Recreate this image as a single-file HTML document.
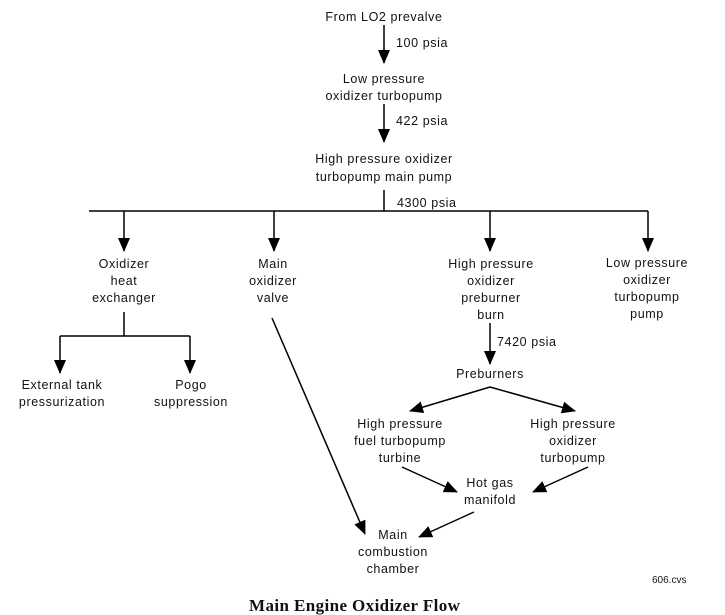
<!DOCTYPE html>
<html><head><meta charset="utf-8"><style>
body{margin:0;background:#fff;}
svg{display:block;}
text{font-family:"Liberation Sans",sans-serif;font-size:12.5px;fill:#111;letter-spacing:0.6px;}
</style></head><body>
<svg width="725" height="615" viewBox="0 0 725 615" xmlns="http://www.w3.org/2000/svg">
<defs>
<marker id="a" markerWidth="14" markerHeight="12" refX="13" refY="6" orient="auto" markerUnits="userSpaceOnUse">
<path d="M0,0 L14,6 L0,12 z" fill="#000"/>
</marker>
</defs>
<g stroke="#000" stroke-width="1.5" fill="none">
<line x1="384" y1="25" x2="384" y2="63" marker-end="url(#a)"/>
<line x1="384" y1="104" x2="384" y2="142" marker-end="url(#a)"/>
<line x1="384" y1="190" x2="384" y2="211"/>
<line x1="89" y1="211" x2="648" y2="211"/>
<line x1="124" y1="211" x2="124" y2="251" marker-end="url(#a)"/>
<line x1="274" y1="211" x2="274" y2="251" marker-end="url(#a)"/>
<line x1="490" y1="211" x2="490" y2="251" marker-end="url(#a)"/>
<line x1="648" y1="211" x2="648" y2="251" marker-end="url(#a)"/>
<line x1="124" y1="312" x2="124" y2="336"/>
<line x1="60" y1="336" x2="190" y2="336"/>
<line x1="60" y1="336" x2="60" y2="373" marker-end="url(#a)"/>
<line x1="190" y1="336" x2="190" y2="373" marker-end="url(#a)"/>
<line x1="272" y1="318" x2="365" y2="534" marker-end="url(#a)"/>
<line x1="490" y1="323" x2="490" y2="364" marker-end="url(#a)"/>
<line x1="490" y1="387" x2="410" y2="411" marker-end="url(#a)"/>
<line x1="490" y1="387" x2="575" y2="411" marker-end="url(#a)"/>
<line x1="402" y1="467" x2="457" y2="492" marker-end="url(#a)"/>
<line x1="588" y1="467" x2="533" y2="492" marker-end="url(#a)"/>
<line x1="474" y1="512" x2="419" y2="537" marker-end="url(#a)"/>
</g>
<g text-anchor="middle">
<text x="384" y="21">From LO2 prevalve</text>
<text x="384" y="83">Low pressure</text>
<text x="384" y="100">oxidizer turbopump</text>
<text x="384" y="163">High pressure oxidizer</text>
<text x="384" y="181">turbopump main pump</text>
<text x="124" y="268">Oxidizer</text>
<text x="124" y="285">heat</text>
<text x="124" y="302">exchanger</text>
<text x="273" y="268">Main</text>
<text x="273" y="285">oxidizer</text>
<text x="273" y="302">valve</text>
<text x="491" y="268">High pressure</text>
<text x="491" y="285">oxidizer</text>
<text x="491" y="302">preburner</text>
<text x="491" y="319">burn</text>
<text x="647" y="267">Low pressure</text>
<text x="647" y="284">oxidizer</text>
<text x="647" y="301">turbopump</text>
<text x="647" y="318">pump</text>
<text x="62" y="389">External tank</text>
<text x="62" y="406">pressurization</text>
<text x="191" y="389">Pogo</text>
<text x="191" y="406">suppression</text>
<text x="490" y="378">Preburners</text>
<text x="400" y="428">High pressure</text>
<text x="400" y="445">fuel turbopump</text>
<text x="400" y="462">turbine</text>
<text x="573" y="428">High pressure</text>
<text x="573" y="445">oxidizer</text>
<text x="573" y="462">turbopump</text>
<text x="490" y="487">Hot gas</text>
<text x="490" y="504">manifold</text>
<text x="393" y="539">Main</text>
<text x="393" y="556">combustion</text>
<text x="393" y="573">chamber</text>
</g>
<text x="396" y="47">100 psia</text>
<text x="396" y="125">422 psia</text>
<text x="397" y="207">4300 psia</text>
<text x="497" y="346">7420 psia</text>
<text x="652" y="583" style="font-size:10px;letter-spacing:0">606.cvs</text>
<text x="249" y="611" style="font-family:'Liberation Serif',serif;font-size:17px;font-weight:bold;letter-spacing:0.4px">Main Engine Oxidizer Flow</text>
</svg>
</body></html>
